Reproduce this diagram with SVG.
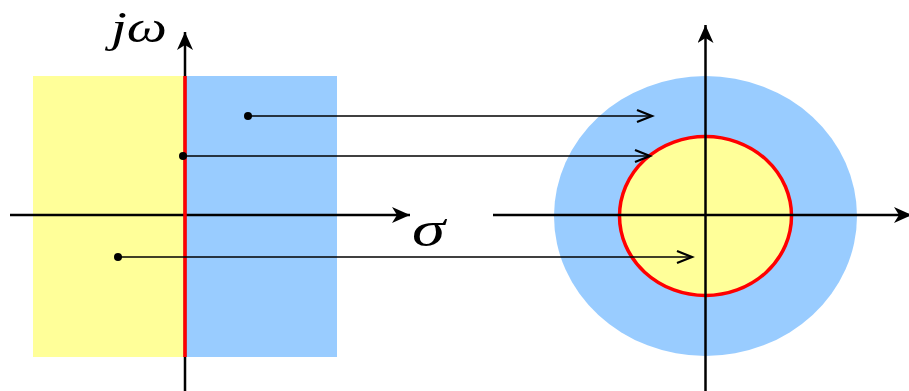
<svg xmlns="http://www.w3.org/2000/svg" width="909" height="391" viewBox="0 0 909 391">
<style>
.ax{stroke:#000;stroke-width:2.5;fill:none}
.map{stroke:#000;stroke-width:1.6;fill:none}
.lbl{font-family:"Liberation Serif","DejaVu Serif",serif;font-style:italic;fill:#000}
</style>
<defs>
<marker id="axh" markerWidth="20" markerHeight="20" refX="18" refY="8" orient="auto" markerUnits="userSpaceOnUse">
<path d="M18,8 L0,0 L5,8 L0,16 Z" fill="#000"/>
</marker>
<marker id="oh" markerWidth="20" markerHeight="20" refX="17" refY="8" orient="auto" markerUnits="userSpaceOnUse">
<path d="M2,2 L17,8 L2,14" fill="none" stroke="#000" stroke-width="2.2" stroke-linejoin="miter"/>
</marker>
</defs>
<g id="s-plane">
<rect x="33" y="76" width="152" height="281" fill="#ffff99"/>
<rect x="185" y="76" width="152" height="281" fill="#99ccff"/>
</g>
<g id="z-plane">
<ellipse cx="705.5" cy="216" rx="151.5" ry="140" fill="#99ccff"/>
<ellipse cx="705.5" cy="216" rx="86" ry="79.5" fill="#ffff99" stroke="#ff0000" stroke-width="3.5"/>
</g>
<g id="axes">
<line class="ax" x1="10" y1="215" x2="410" y2="215" marker-end="url(#axh)"/>
<line class="ax" x1="185" y1="391" x2="185" y2="32" marker-end="url(#axh)"/>
<line class="ax" x1="493" y1="215" x2="912" y2="215" marker-end="url(#axh)"/>
<line class="ax" x1="705.5" y1="391" x2="705.5" y2="25" marker-end="url(#axh)"/>
</g>
<g id="imag-axis-boundary">
<line x1="185" y1="76" x2="185" y2="357" stroke="#ff0000" stroke-width="3.5"/>
</g>
<g id="labels">
<text class="lbl" x="111" y="42" font-size="44" textLength="56" lengthAdjust="spacingAndGlyphs">jω</text>
<text class="lbl" x="412" y="246" font-size="50" textLength="33" lengthAdjust="spacingAndGlyphs">σ</text>
</g>
<g id="connectors">
<circle cx="248" cy="116" r="4" fill="#000"/>
<line class="map" x1="248" y1="116" x2="652" y2="116" marker-end="url(#oh)"/>
<circle cx="183" cy="156" r="4" fill="#000"/>
<line class="map" x1="183" y1="156" x2="650" y2="156" marker-end="url(#oh)"/>
<circle cx="118" cy="257" r="4" fill="#000"/>
<line class="map" x1="118" y1="257" x2="692" y2="257" marker-end="url(#oh)"/>
</g>
</svg>
